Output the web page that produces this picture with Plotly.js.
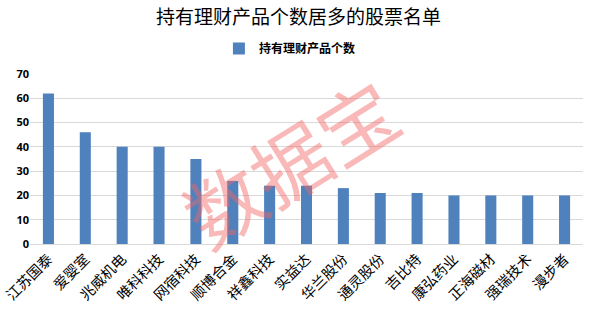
<!DOCTYPE html>
<html><head><meta charset="utf-8">
<script src="https://cdn.plot.ly/plotly-3.0.1.min.js"></script>
<style>html,body{margin:0;padding:0;background:#fff;}#chart{width:591px;height:312px;}</style>
</head><body><div id="chart"></div>
<script>
const categories = ["江苏国泰","爱婴室","兆威机电","唯科科技","网宿科技","顺博合金","祥鑫科技","实益达","华兰股份","通灵股份","吉比特","康弘药业","正海磁材","强瑞技术","漫步者"];
const values = [62,46,40,40,35,26,24,24,23,21,21,20,20,20,20];
const seriesName = "持有理财产品个数";
const chartTitle = "持有理财产品个数居多的股票名单";
const watermark = "数据宝";

const trace = {
  type: 'bar', x: categories, y: values, name: seriesName,
  marker: {color: '#4f81bd'}, width: 0.3, showlegend: true
};
const layout = {
  width: 591, height: 312,
  margin: {l: 30, r: 8, t: 74, b: 68},
  paper_bgcolor: '#fff', plot_bgcolor: '#fff',
  title: {text: chartTitle, x: 0.505, xanchor: 'center', y: 0.945, yanchor: 'middle',
    font: {family: '"Noto Sans CJK SC", sans-serif', size: 19, color: '#000'}},
  showlegend: true,
  legend: {orientation: 'h', x: 0.47, xanchor: 'center', y: 1.15, yanchor: 'middle',
    font: {family: '"Noto Sans CJK SC", sans-serif', size: 12, color: '#000', weight: 'bold'},
    itemwidth: 30},
  xaxis: {tickangle: -45, showgrid: false, showline: true, linecolor: '#d9d9d9', ticks: '',
    tickfont: {family: '"Noto Sans CJK SC", serif', size: 14.5, color: '#000'}},
  yaxis: {range: [0, 70], dtick: 10, showgrid: true, gridcolor: '#d9d9d9', zeroline: true, zerolinecolor: '#d9d9d9',
    ticks: '', tickfont: {family: '"Open Sans", sans-serif', size: 11, color: '#000', weight: 'bold'}},
  annotations: [{text: watermark, xref: 'paper', yref: 'paper', x: 0.468, y: 0.49, showarrow: false,
    textangle: -32, font: {family: '"Noto Sans CJK SC", sans-serif', size: 78, color: 'rgba(242,100,100,0.45)'}}],
  bargap: 0.7
};
Plotly.newPlot('chart', [trace], layout, {displayModeBar: false, staticPlot: true});
</script></body></html>
